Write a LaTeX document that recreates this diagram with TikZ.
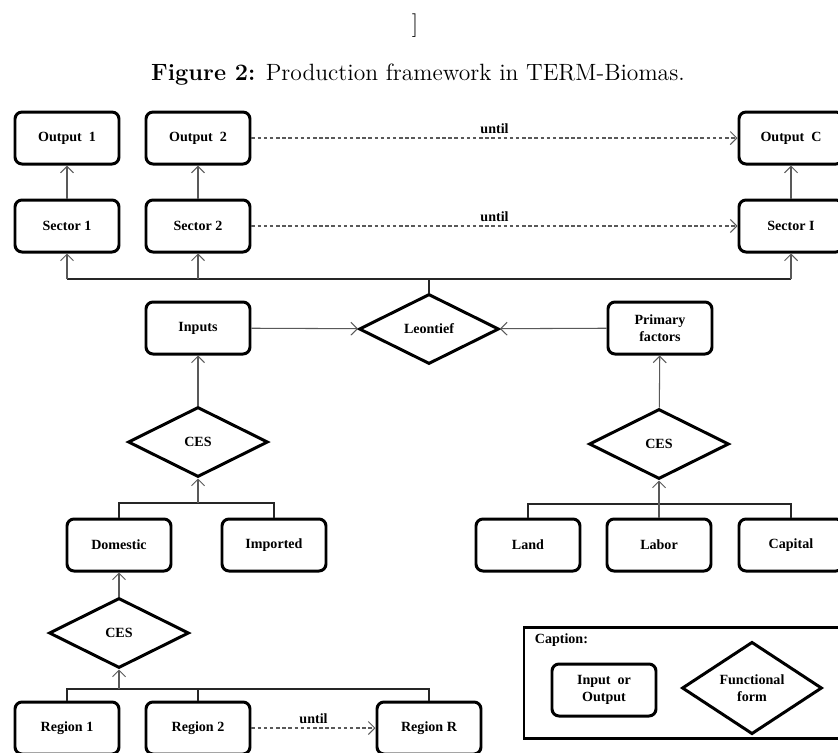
\documentclass[tikz,border=0pt]{standalone}
\usepackage{fontspec}
\newfontfamily\timesfont{Liberation Serif}
\usetikzlibrary{shapes.geometric, arrows.meta, positioning, calc}

\begin{document}
\begin{tikzpicture}[
  box/.style={rectangle, draw=black, line width=1.7pt, rounded corners=4pt, minimum width=2.08cm,
    minimum height=1.04cm, align=center, inner sep=1pt, font=\timesfont\bfseries\fontsize{8}{10}\selectfont},
  func/.style={diamond, draw=black, line width=1.7pt, minimum width=2.8cm, minimum height=1.4cm,
    inner sep=0pt, align=center, font=\timesfont\bfseries\fontsize{8}{10}\selectfont},
  legend/.style={rectangle, draw=black, line width=1.7pt, minimum width=6.42cm, minimum height=2.22cm},
  lbl/.style={inner sep=2pt, font=\timesfont\bfseries\fontsize{8}{10}\selectfont},
  arrow/.style={-{Straight Barb[length=1.3mm, width=2.6mm]}, draw=black!65, line width=0.6pt},
  dots/.style={arrow, dash pattern=on 2pt off 1.5pt},
  bus/.style={draw=black!85, line width=0.6pt}
]
\useasboundingbox (0,0) rectangle (16.76,-15.06);

% title
\node (brk) at (8.3,-0.52) {\fontsize{13.4}{16}\selectfont ]};
\node (title) at (8.36,-1.5) {\fontsize{13.4}{16}\selectfont\textbf{Figure 2:} Production framework in TERM-Biomas.};

% outputs and sectors
\node (sec1) [box] at (1.34,-4.52) {Sector 1};
\node (sec2) [box] at (3.96,-4.52) {Sector 2};
\node (secI) [box] at (15.82,-4.52) {Sector I};
\node (out1) [box, above=0.66cm of sec1] {Output~~1};
\node (out2) [box, above=0.66cm of sec2] {Output~~2};
\node (outC) [box, above=0.66cm of secI] {Output~~C};

% top level
\node (leon) [func] at (8.58,-6.58) {Leontief};
\node (inp) [box] at (3.96,-6.56) {Inputs};
\node (prim) [box] at (13.2,-6.56) {Primary\\factors};
\coordinate (topbus) at (8.58,-5.58);

% inputs nest
\node (ces1) [func] at (3.96,-8.84) {CES};
\node (dom) [box] at (2.38,-10.9) {Domestic};
\node (imp) [box] at (5.48,-10.9) {Imported};
\coordinate (dibus) at (3.96,-10.06);
\node (ces2) [func] at (2.38,-12.66) {CES};
\node (reg1) [box] at (1.34,-14.56) {Region 1};
\node (reg2) [box] at (3.96,-14.56) {Region 2};
\node (regR) [box] at (8.58,-14.56) {Region R};
\coordinate (regbus) at (2.38,-13.78);

% primary factors nest
\node (ces3) [func] at (13.18,-8.88) {CES};
\node (land) [box] at (10.56,-10.9) {Land};
\node (labor) [box] at (13.18,-10.9) {Labor};
\node (cap) [box] at (15.82,-10.9) {Capital};
\coordinate (facbus) at (13.18,-10.08);

% legend
\node (capbox) [legend] at (13.69,-13.65) {};
\node (captitle) [lbl, anchor=west] at (10.62,-12.8) {Caption:};
\node (legbox) [box] at (12.08,-13.8) {Input~~or\\Output};
\node (legfunc) [func] at (15.04,-13.76) {Functional\\form};

% arrows
\draw [arrow] (sec1) -- (out1);
\draw [arrow] (sec2) -- (out2);
\draw [arrow] (secI) -- (outC);
\draw [dots] (out2) -- node[lbl, above] {until} (outC);
\draw [dots] (sec2) -- node[lbl, above] {until} (secI);

\draw [bus] (leon) -- (topbus);
\draw [bus] (sec1 |- topbus) -- (secI |- topbus);
\draw [arrow] (sec1 |- topbus) -- (sec1);
\draw [arrow] (sec2 |- topbus) -- (sec2);
\draw [arrow] (secI |- topbus) -- (secI);

\draw [arrow] (inp) -- (leon);
\draw [arrow] (prim) -- (leon);
\draw [arrow] (ces1) -- (inp);
\draw [arrow] (ces3) -- (prim);

\draw [bus] (dom.north) -- (dom |- dibus) -- (imp |- dibus) -- (imp.north);
\draw [arrow] (dibus) -- (ces1);
\draw [arrow] (ces2) -- (dom);

\draw [bus] (reg1.north) -- (reg1 |- regbus) -- (regR |- regbus) -- (regR.north);
\draw [bus] (reg2.north) -- (reg2 |- regbus);
\draw [arrow] (regbus) -- (ces2);
\draw [dots] (reg2) -- node[lbl, above] {until} (regR);

\draw [bus] (land.north) -- (land |- facbus) -- (cap |- facbus) -- (cap.north);
\draw [arrow] (labor) -- (ces3);

\end{tikzpicture}
\end{document}
